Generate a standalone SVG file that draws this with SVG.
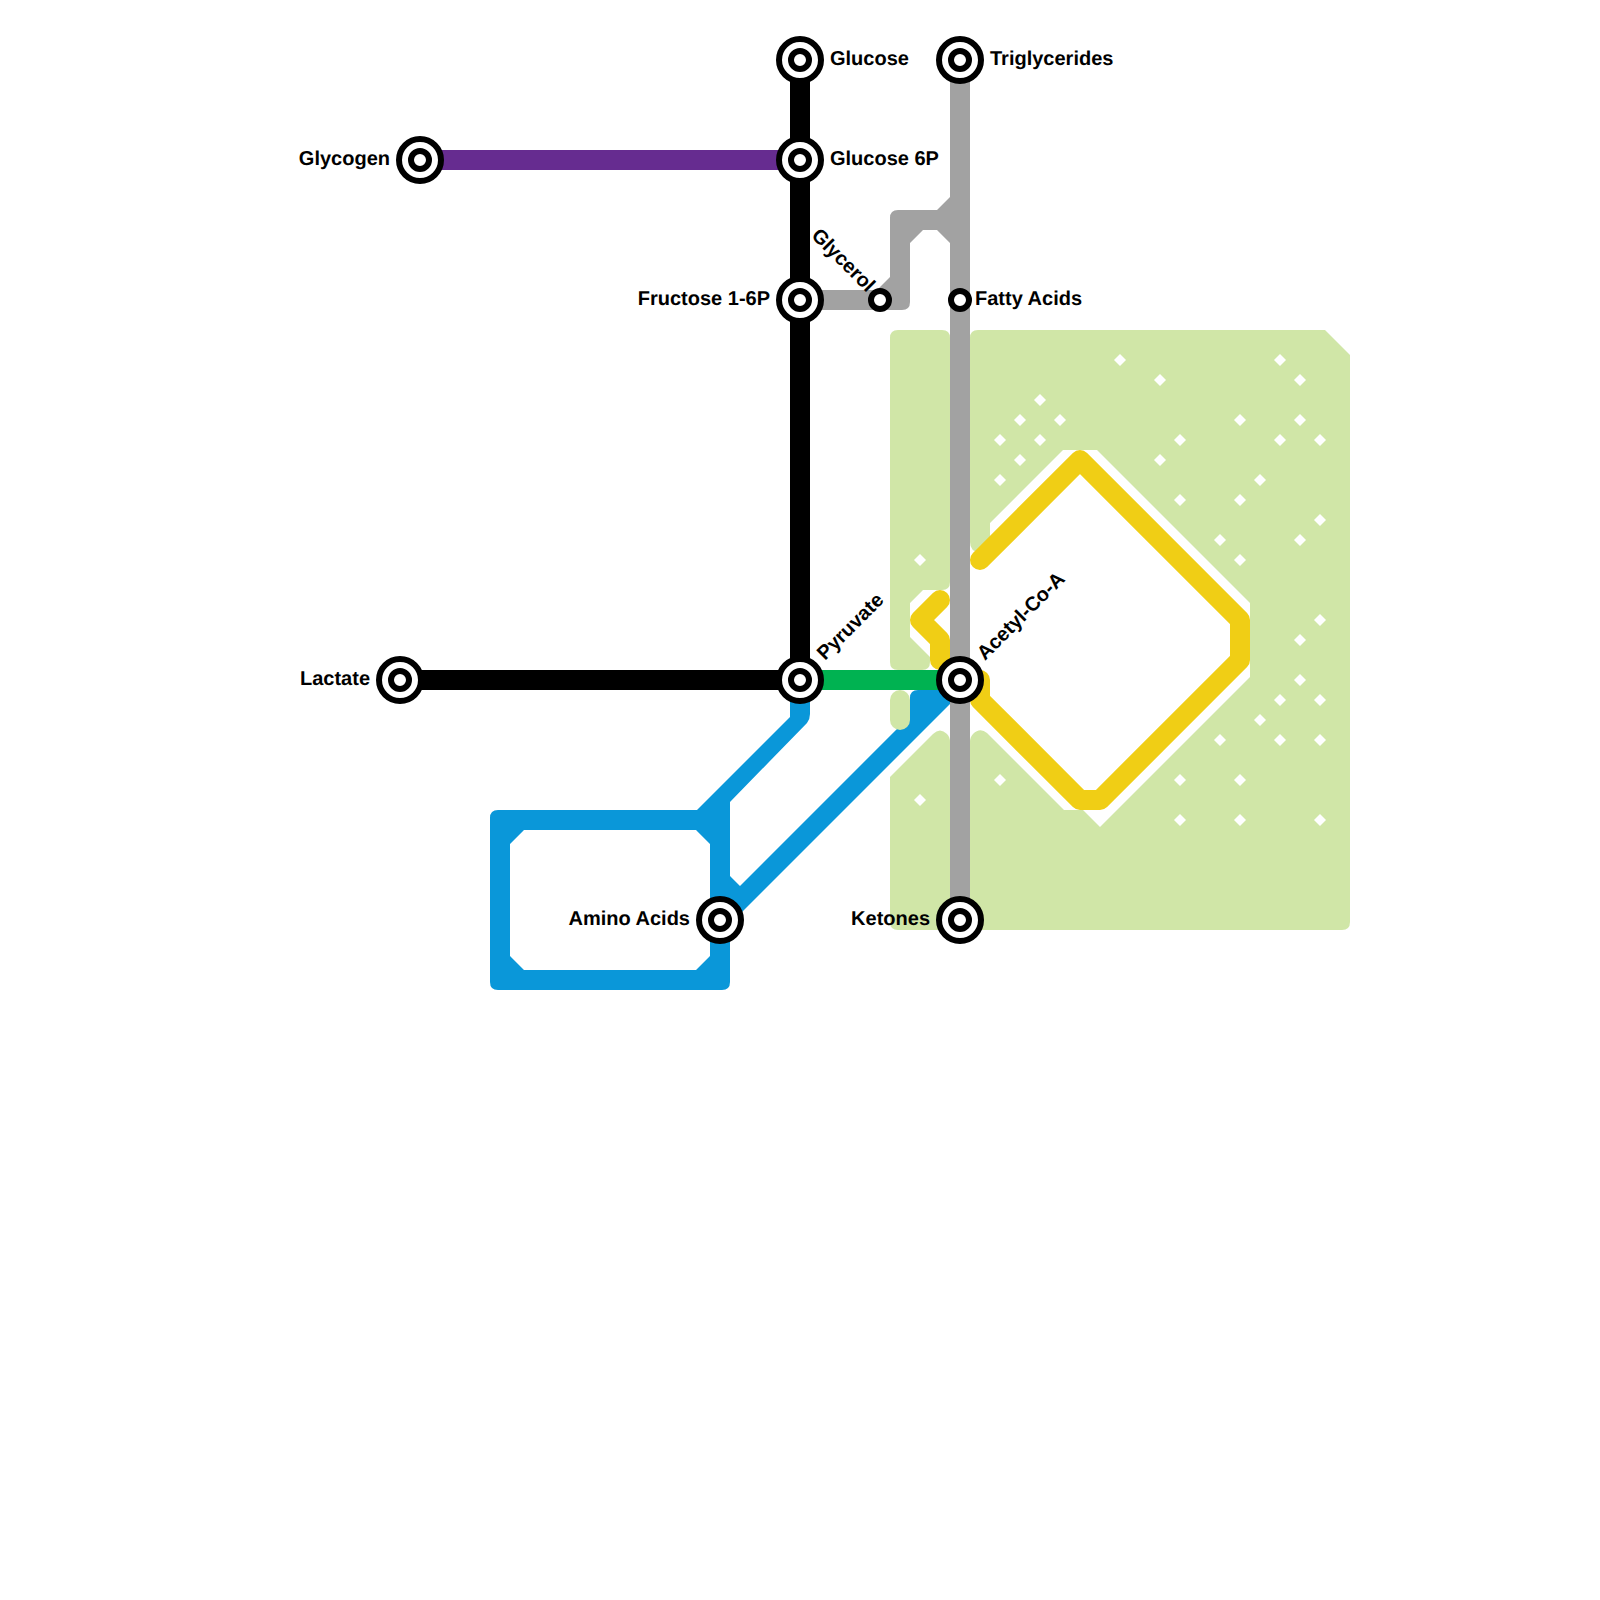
<svg xmlns="http://www.w3.org/2000/svg" width="1600" height="1600" viewBox="0 0 1600 1600">
<style>
.zone{fill:#d0e6a7}
.dot{fill:#fff}
.ln{fill:none;stroke-width:20;stroke-linecap:round;stroke-linejoin:round}
.outer{fill:#fff;stroke:#000;stroke-width:6}
.inner{fill:#fff;stroke:#000;stroke-width:6}
text{font-family:"Liberation Sans",Arial,sans-serif;font-weight:700;font-size:20px;fill:#000;text-rendering:geometricPrecision}
.e{text-anchor:end}
</style>
<defs>
<path id="d" class="dot" d="M0 -6L6 0L0 6L-6 0Z"/>
<g id="big"><circle class="outer" r="21"/><circle class="inner" r="9"/></g>
<circle id="small" class="inner" r="9"/>
</defs>
<rect width="1600" height="1600" fill="#fff"/>
<g id="zones">
<path class="zone" d="M978 330H1325L1350 355V922Q1350 930 1342 930H978Q970 930 970 922V742Q970 737 973 734Q980 727 987 733L1064 810H1083L1100 827L1250 677V603L1097 450H1063L990 523V542L980 552Q970 552 970 542V338Q970 330 978 330Z"/>
<path class="zone" d="M898 330H942Q950 330 950 338V582Q950 590 942 590H923L910 603V637L930 657V662Q930 670 922 670H898Q890 670 890 662V338Q890 330 898 330Z"/>
<path class="zone" d="M890 777L933 734Q940 727 947 734Q950 737 950 742V930H898Q890 930 890 922Z"/>
<g id="dots">
<use href="#d" x="1120" y="360"/><use href="#d" x="1160" y="380"/><use href="#d" x="1040" y="400"/><use href="#d" x="1020" y="420"/><use href="#d" x="1060" y="420"/><use href="#d" x="1000" y="440"/><use href="#d" x="1040" y="440"/><use href="#d" x="1020" y="460"/><use href="#d" x="1000" y="480"/><use href="#d" x="1280" y="360"/><use href="#d" x="1300" y="380"/><use href="#d" x="1240" y="420"/><use href="#d" x="1300" y="420"/><use href="#d" x="1180" y="440"/><use href="#d" x="1280" y="440"/><use href="#d" x="1320" y="440"/><use href="#d" x="1160" y="460"/><use href="#d" x="1260" y="480"/><use href="#d" x="1180" y="500"/><use href="#d" x="1240" y="500"/><use href="#d" x="1320" y="520"/><use href="#d" x="1300" y="540"/><use href="#d" x="1220" y="540"/><use href="#d" x="1240" y="560"/><use href="#d" x="1320" y="620"/><use href="#d" x="1300" y="640"/><use href="#d" x="1300" y="680"/><use href="#d" x="1280" y="700"/><use href="#d" x="1320" y="700"/><use href="#d" x="1260" y="720"/><use href="#d" x="1280" y="740"/><use href="#d" x="1320" y="740"/><use href="#d" x="1220" y="740"/><use href="#d" x="1180" y="780"/><use href="#d" x="1240" y="780"/><use href="#d" x="1180" y="820"/><use href="#d" x="1240" y="820"/><use href="#d" x="1320" y="820"/><use href="#d" x="920" y="560"/><use href="#d" x="920" y="800"/><use href="#d" x="1000" y="780"/>
</g>
</g>
<g id="connectors">
<path class="ln" stroke="#f0ce15" d="M940 600L920 620L940 640V660"/>
<path class="ln" stroke="#f0ce15" d="M960 680H980V700L1080 800H1100L1240 660V620L1080 460L980 560"/>
<path fill="#0a97d9" fill-rule="evenodd" d="M498 810H697L790 717V680H810V714Q810 719 807 723L730 802V875.9L740 885.9L910 716V698Q910 690 918 690H960V694L730 924V982Q730 990 722 990H498Q490 990 490 982V818Q490 810 498 810ZM524 830L510 844V956L524 970H696L710 956V844L696 830Z"/>
<path fill="#a2a2a2" d="M950 60H970V920H950V243L937 230H923L910 243V302Q910 310 902 310H800V290H877L890 277V218Q890 210 898 210H937L950 197Z"/>
<path stroke="#00b251" stroke-width="20" fill="none" d="M800 680H960"/>
<path stroke="#662c90" stroke-width="20" fill="none" d="M420 160H800"/>
<path stroke="#000" stroke-width="20" fill="none" d="M800 60V680M400 680H800"/>
</g>
<rect id="zone-pill" class="zone" x="890" y="690" width="20" height="40" rx="10"/>
<g id="glucose"><use href="#big" x="800" y="60"/><text x="830" y="65">Glucose</text></g>
<g id="triglycerides"><use href="#big" x="960" y="60"/><text x="990" y="65">Triglycerides</text></g>
<g id="glucose6p"><use href="#big" x="800" y="160"/><text x="830" y="165">Glucose 6P</text></g>
<g id="glycogen"><use href="#big" x="420" y="160"/><text class="e" x="390" y="165">Glycogen</text></g>
<g id="fructose"><use href="#big" x="800" y="300"/><text class="e" x="770" y="305">Fructose 1-6P</text></g>
<g id="glycerol"><use href="#small" x="880" y="300"/><text class="e" transform="translate(867 293) rotate(45)">Glycerol</text></g>
<g id="fattyacids"><use href="#small" x="960" y="300"/><text x="975" y="305">Fatty Acids</text></g>
<g id="pyruvate"><use href="#big" x="800" y="680"/><text transform="translate(825 661) rotate(-45)">Pyruvate</text></g>
<g id="acetylcoa"><use href="#big" x="960" y="680"/><text transform="translate(985 661) rotate(-45)">Acetyl-Co-A</text></g>
<g id="lactate"><use href="#big" x="400" y="680"/><text class="e" x="370" y="685">Lactate</text></g>
<g id="aminoacids"><use href="#big" x="720" y="920"/><text class="e" x="690" y="925">Amino Acids</text></g>
<g id="ketones"><use href="#big" x="960" y="920"/><text class="e" x="930" y="925">Ketones</text></g>
</svg>
